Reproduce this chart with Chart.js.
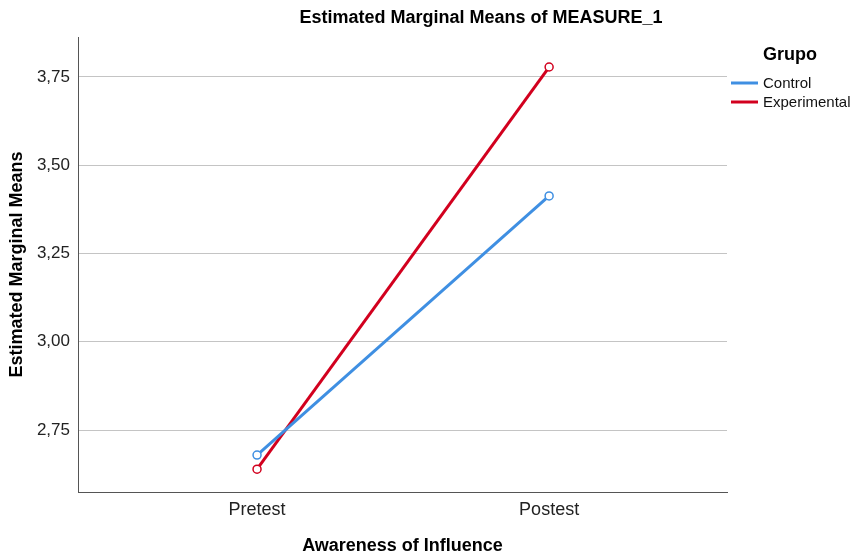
<!DOCTYPE html>
<html><head><meta charset="utf-8">
<script src="https://cdn.jsdelivr.net/npm/chart.js@4"></script>
<style>html,body{margin:0;padding:0;background:#fff}#wrap{width:851px;height:555px;position:relative}</style>
</head><body><div id="wrap"><canvas id="c" width="851" height="555"></canvas></div>
<script>
const chartTitle = 'Estimated Marginal Means of MEASURE_1';
const legendTitle = 'Grupo';
const xAxisTitle = 'Awareness of Influence';
const yAxisTitle = 'Estimated Marginal Means';
const categories = ['Pretest', 'Postest'];
const seriesNames = ['Control', 'Experimental'];
const controlValues = [2.679, 3.413];
const experimentalValues = [2.639, 3.778];
const yTickValues = [2.75, 3.00, 3.25, 3.50, 3.75];
const yTickLabels = ['2,75', '3,00', '3,25', '3,50', '3,75'];

const seriesColors = ['#3F8FE2', '#D2001E'];
const FONT = "'Liberation Sans', Arial, sans-serif";

function toPoints(vals) { return vals.map((v, i) => ({x: i, y: v})); }

const datasets = [controlValues, experimentalValues].map((vals, i) => ({
  label: seriesNames[i],
  data: toPoints(vals),
  borderColor: seriesColors[i],
  backgroundColor: '#ffffff',
  borderWidth: 3,
  pointRadius: 4,
  pointBorderWidth: 1.5,
  pointBackgroundColor: '#ffffff',
  pointBorderColor: seriesColors[i],
  tension: 0
}));

const decor = {
  id: 'decor',
  afterDraw(chart) {
    const ctx = chart.ctx;
    ctx.save();
    ctx.fillStyle = '#000';
    ctx.font = "bold 18px " + FONT;
    ctx.textAlign = 'center';
    ctx.textBaseline = 'middle';
    ctx.fillText(chartTitle, 481, 18);
    // legend
    ctx.textAlign = 'left';
    ctx.font = "bold 18px " + FONT;
    ctx.fillText(legendTitle, 763, 55);
    ctx.font = "15px " + FONT;
    chart.data.datasets.forEach((ds, i) => {
      const y = 83 + i * 19;
      ctx.strokeStyle = ds.borderColor;
      ctx.lineWidth = 3;
      ctx.beginPath();
      ctx.moveTo(731, y);
      ctx.lineTo(758, y);
      ctx.stroke();
      ctx.fillStyle = '#111';
      ctx.fillText(ds.label, 763, y + 1);
    });
    ctx.restore();
  }
};

new Chart(document.getElementById('c'), {
  type: 'line',
  data: { datasets },
  options: {
    responsive: false,
    devicePixelRatio: 1,
    animation: false,
    layout: { padding: { top: 37, right: 124, left: 0, bottom: 0 } },
    plugins: { legend: { display: false }, tooltip: { enabled: false } },
    scales: {
      x: {
        type: 'linear',
        min: -0.613, max: 1.609,
        afterBuildTicks(scale) { scale.ticks = categories.map((c, i) => ({value: i})); },
        afterFit(scale) { scale.height = 63; },
        ticks: {
          callback: (v) => categories[v] ?? '',
          font: { family: FONT, size: 18 },
          color: '#222',
          padding: 7,
          maxRotation: 0
        },
        grid: { display: false, drawTicks: false },
        border: { display: true, color: '#555', width: 1 },
        title: {
          display: true, text: xAxisTitle, color: '#000',
          font: { family: FONT, size: 18, weight: 'bold', lineHeight: 1 },
          padding: { top: 0, bottom: 0 }
        }
      },
      y: {
        type: 'linear',
        min: 2.5745, max: 3.863,
        afterBuildTicks(scale) { scale.ticks = yTickValues.map(v => ({value: v})); },
        afterFit(scale) { scale.width = 78; },
        ticks: {
          callback: (v) => { const k = yTickValues.indexOf(v); return k >= 0 ? yTickLabels[k] : ''; },
          font: { family: FONT, size: 17 },
          color: '#222',
          padding: 8
        },
        grid: { color: '#c4c4c4', lineWidth: 1, drawTicks: false },
        border: { display: true, color: '#555', width: 1 },
        title: {
          display: true, text: yAxisTitle, color: '#000',
          font: { family: FONT, size: 18, weight: 'bold', lineHeight: 1 },
          padding: { top: 8, bottom: 0 }
        }
      }
    }
  },
  plugins: [decor]
});
</script>
</body></html>
